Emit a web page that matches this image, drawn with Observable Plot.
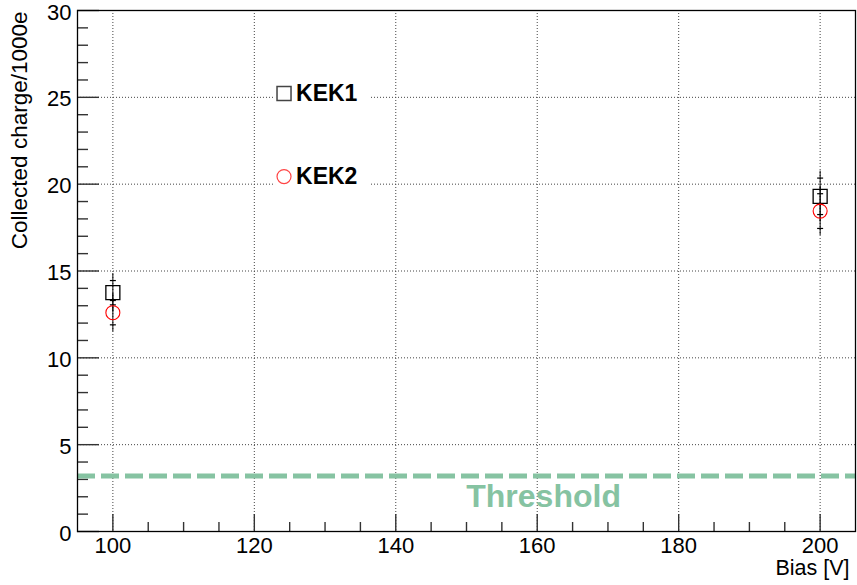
<!DOCTYPE html>
<html>
<head>
<meta charset="utf-8">
<script src="https://cdn.jsdelivr.net/npm/d3@7"></script>
<script src="https://cdn.jsdelivr.net/npm/@observablehq/plot@0.6"></script>
<style>
  html, body { margin: 0; padding: 0; background: #fff; }
  #chart { width: 857px; height: 585px; }
</style>
</head>
<body>
<div id="chart"></div>
<script>
// ---- data ----
const bias = [100, 200];                 // Bias [V]
const kek1 = [13.75, 19.3];              // Collected charge / 1000e
const kek1Err = [0.7, 1.05];
const kek2 = [12.6, 18.45];
const kek2Err = [0.7, 1.0];
const seriesNames = ["KEK1", "KEK2"];
const thresholdValue = 3.2;
const thresholdLabel = "Threshold";
const xMajorTicks = [100, 120, 140, 160, 180, 200];
const xMinorTicks = [105, 110, 115, 125, 130, 135, 145, 150, 155, 165, 170, 175, 185, 190, 195];
const yMajorTicks = [0, 5, 10, 15, 20, 25, 30];
const yMinorTicks = d3.range(1, 30).filter(v => v % 5 !== 0);
const xGrid = [100, 120, 140, 160, 180, 200];
const yGrid = [5, 10, 15, 20, 25];
const xLabel = "Bias [V]";
const yLabel = "Collected charge/1000e";

// legend placement (data units)
const legendX = 124.2;
const legendY = [25.22, 20.44];
const legendBox = [{x1: 123.0, x2: 136.3, y1: 19.1, y2: 26.5}];

// ---- layout ----
const W = 857, H = 585;
const mL = 77, mR = 2, mT = 10, mB = 54;
const fw = W - mL - mR, fh = H - mT - mB;
const font = "'Liberation Sans', Arial, Helvetica, sans-serif";

const rows = [];
bias.forEach((b, i) => {
  rows.push({series: "KEK1", bias: b, v: kek1[i], e: kek1Err[i]});
  rows.push({series: "KEK2", bias: b, v: kek2[i], e: kek2Err[i]});
});
const legendRows = seriesNames.map((s, i) => ({series: s, x: legendX, y: legendY[i]}));

const cap = {draw(ctx) { ctx.moveTo(-3, 0); ctx.lineTo(3, 0); }};
const green = "#86c3a2";

const chart = Plot.plot({
  width: W, height: H,
  marginLeft: mL, marginRight: mR, marginTop: mT, marginBottom: mB,
  style: {fontFamily: font, background: "#fff", color: "#000", overflow: "visible"},
  x: {domain: [95, 205]},
  y: {domain: [0, 30]},
  marks: [
    // grid
    Plot.ruleX(xGrid, {stroke: "#444", strokeWidth: 1, strokeDasharray: "1,2"}),
    Plot.ruleY(yGrid, {stroke: "#444", strokeWidth: 1, strokeDasharray: "1,2"}),
    // ticks (inside the frame, ROOT style)
    Plot.ruleX(xMajorTicks, {stroke: "#333", strokeWidth: 1.4, insetTop: fh - 17}),
    Plot.ruleX(xMinorTicks, {stroke: "#333", strokeWidth: 1.4, insetTop: fh - 9}),
    Plot.ruleY(yMajorTicks, {stroke: "#333", strokeWidth: 1.4, insetRight: fw - 22}),
    Plot.ruleY(yMinorTicks, {stroke: "#333", strokeWidth: 1.4, insetRight: fw - 11}),
    // threshold
    Plot.ruleY([thresholdValue], {stroke: green, strokeWidth: 5, strokeDasharray: "18,6"}),
    Plot.text([thresholdLabel], {x: 160.9, y: 2.0, text: d => d, fill: green, fontSize: 32, fontWeight: "bold", textAnchor: "middle", lineAnchor: "middle"}),
    // error bars (gap inside own marker)
    Plot.ruleX(rows, {x: "bias", y1: "v", y2: d => d.v + d.e, insetBottom: 7, stroke: "#000", strokeWidth: 1}),
    Plot.ruleX(rows, {x: "bias", y1: d => d.v - d.e, y2: "v", insetTop: 7, stroke: "#000", strokeWidth: 1}),
    Plot.dot(rows, {x: "bias", y: d => d.v + d.e, symbol: cap, stroke: "#000", strokeWidth: 1.2, fill: "none"}),
    Plot.dot(rows, {x: "bias", y: d => d.v - d.e, symbol: cap, stroke: "#000", strokeWidth: 1.2, fill: "none"}),
    // markers
    Plot.dot(rows.filter(d => d.series === "KEK1"), {x: "bias", y: "v", symbol: "square", r: 7.9, stroke: "#000", strokeWidth: 1.3, fill: "none"}),
    Plot.dot(rows.filter(d => d.series === "KEK2"), {x: "bias", y: "v", symbol: "circle", r: 7, stroke: "#ff0000", strokeWidth: 1.1, fill: "none"}),
    // legend
    Plot.rect(legendBox, {x1: "x1", x2: "x2", y1: "y1", y2: "y2", fill: "#fff"}),
    Plot.dot(legendRows.filter(d => d.series === "KEK1"), {x: "x", y: "y", symbol: "square", r: 7.9, stroke: "#444", strokeWidth: 1.5, fill: "none"}),
    Plot.dot(legendRows.filter(d => d.series === "KEK2"), {x: "x", y: "y", symbol: "circle", r: 7, stroke: "#ff4444", strokeWidth: 1.2, fill: "none"}),
    Plot.text(legendRows, {x: "x", y: "y", text: "series", dx: 12, textAnchor: "start", lineAnchor: "middle", fontSize: 23, fontWeight: "bold", fill: "#000"}),
    // frame
    Plot.frame({stroke: "#000", strokeWidth: 1.3}),
    // axes
    Plot.axisX({ticks: xMajorTicks, tickSize: 0, tickPadding: 6, fontSize: 22, label: null}),
    Plot.axisY({ticks: yMajorTicks, tickSize: 0, tickPadding: 6, fontSize: 22, dy: 2, label: null}),
    Plot.text([xLabel], {frameAnchor: "bottom-right", text: d => d, dx: -6, dy: 37, textAnchor: "end", lineAnchor: "middle", fontSize: 21.5, fill: "#000"}),
    Plot.text([yLabel], {frameAnchor: "top-left", text: d => d, dx: -58, dy: 1, rotate: -90, textAnchor: "end", lineAnchor: "middle", fontSize: 22.5, fill: "#000"})
  ]
});
document.getElementById("chart").appendChild(chart);
</script>
</body>
</html>
